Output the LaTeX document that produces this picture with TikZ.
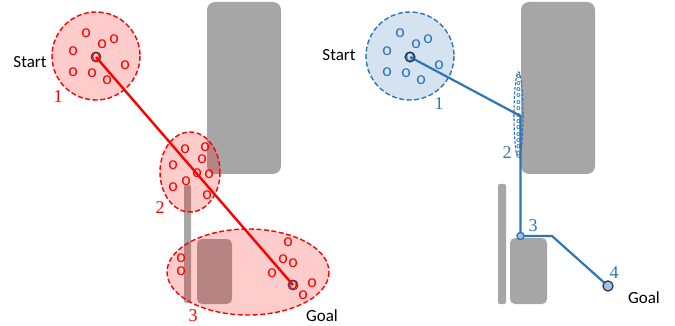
\documentclass[tikz,border=0pt]{standalone}
\usepackage{fontspec}
\setmainfont{Carlito}
\newfontfamily\numfont{Liberation Serif}
\definecolor{myred}{RGB}{255,0,0}
\definecolor{myblue}{RGB}{46,117,182}
\definecolor{mygray}{RGB}{166,166,166}
\definecolor{lightblue}{RGB}{157,195,230}
\definecolor{darkring}{RGB}{40,40,60}
\begin{document}
\begin{tikzpicture}[x=1pt,y=-1pt,
  obst/.style={fill=mygray,draw=none},
  lbl/.style={font=\fontsize{17}{20}\selectfont,inner sep=0,text=black},
  num/.style={font=\numfont\fontsize{18}{18}\selectfont,inner sep=0},
  ro/.style={font=\fontsize{18}{18}\selectfont,text=myred,inner sep=0},
  bo/.style={font=\fontsize{18}{18}\selectfont,text=myblue,inner sep=0},
  tinyo/.style={font=\bfseries\fontsize{8}{8}\selectfont,text=myblue,inner sep=0},
  redregion/.style={draw=myred,line width=1.4pt,dash pattern=on 5pt off 2.5pt},
  blueregion/.style={draw=myblue,line width=1.4pt,dash pattern=on 5pt off 2.5pt},
  redfill/.style={fill=myred,fill opacity=0.2},
  bluefill/.style={fill=myblue,fill opacity=0.2},
  redpath/.style={draw=myred,line width=2.4pt},
  bluepath/.style={draw=myblue,line width=2.2pt,line join=miter},
  ring/.style={circle,draw=darkring,line width=0.8pt,minimum size=10pt,inner sep=0},
  bluedot/.style={circle,draw=myblue,fill=lightblue,line width=1.2pt,minimum size=7pt,inner sep=0},
  bluegoal/.style={circle,draw=darkring,fill=lightblue,line width=1pt,minimum size=10pt,inner sep=0}
]
\useasboundingbox (0,0) rectangle (675,326);
% ---------- obstacles ----------
\fill[obst,rounded corners=8pt] (207,2) rectangle (281,174);
\fill[obst,rounded corners=2pt] (184,185) rectangle (191,303);
\fill[obst,rounded corners=5pt] (197,239) rectangle (232,304);
\fill[obst,rounded corners=8pt] (521,2) rectangle (595,174);
\fill[obst,rounded corners=2pt] (498,184) rectangle (506,304);
\fill[obst,rounded corners=5pt] (510,238) rectangle (547,304);
% ---------- left regions ----------
\path[redfill] (96,56) circle[radius=44];
\path[redregion] (96,56) circle[radius=44];
\path[redfill] (190,172) ellipse[x radius=30,y radius=40];
\path[redregion] (190,172) ellipse[x radius=30,y radius=40];
\path[redfill] (248,272) ellipse[x radius=81,y radius=43];
\path[redregion] (248,272) ellipse[x radius=81,y radius=43];
\foreach \px/\py [count=\i] in {86/33,102/44,114/39,73/51,125/65,73/72,92/73,107/80,
  185/149,205/147,202/159,173/165,197/173,209/174,173/187,186/181,207/195,
  288/242,181/258,181/271,283/259,293/263,272/273,312/283,303/295}
  \node[ro] (lo\i) at (\px,\py) {o};
\node[ro] (lso) at (96,57) {o};
\node[ro] (lgo) at (293,285) {o};
\node[ring] (ls) at (96,57) {};
\node[ring] (lg) at (293,285) {};
\draw[redpath] (ls.center) -- (lg.center);
\node[lbl] (lstart) at (30,62) {Start};
\node[lbl] (lgoal) at (322,316) {Goal};
\node[num,text=myred] (ln1) at (58,97) {1};
\node[num,text=myred] (ln2) at (160,208) {2};
\node[num,text=myred] (ln3) at (193,316) {3};
% ---------- right regions ----------
\path[bluefill] (410,56) circle[radius=44];
\path[blueregion] (410,56) circle[radius=44];
\path[blueregion,line width=1.1pt,dash pattern=on 3pt off 1.5pt] (518.5,115) ellipse[x radius=4.5,y radius=43];
\foreach \px/\py [count=\i] in {400/33,416/44,428/39,387/51,439/65,387/72,406/73,421/80}
  \node[bo] (ro\i) at (\px,\py) {o};
\foreach \k in {0,...,12}
  \node[tinyo] (to\k) at (518.5,{77+6.35*\k}) {o};
\node[bo] (rso) at (410,57) {o};
\node[ring] (rs) at (410,57) {};
\coordinate (r1) at (520.5,116);
\node[bluedot] (r3) at (520.5,236) {};
\coordinate (rk) at (552,236);
\node[bluegoal] (rg) at (608,286) {};
\draw[bluepath] (rs.center) -- (r1) -- (r3.center) -- (rk) -- (rg.center);
\node[bluedot] at (r3) {};
\node[bluegoal] at (rg) {};
\node[ring] at (rs) {};
\node[lbl] (rstart) at (339,55) {Start};
\node[lbl] (rgoal) at (644,298) {Goal};
\node[num,text=myblue] (rn1) at (439,104) {1};
\node[num,text=myblue] (rn2) at (507,153) {2};
\node[num,text=myblue] (rn3) at (533,226) {3};
\node[num,text=myblue] (rn4) at (614,273) {4};
\end{tikzpicture}
\end{document}
